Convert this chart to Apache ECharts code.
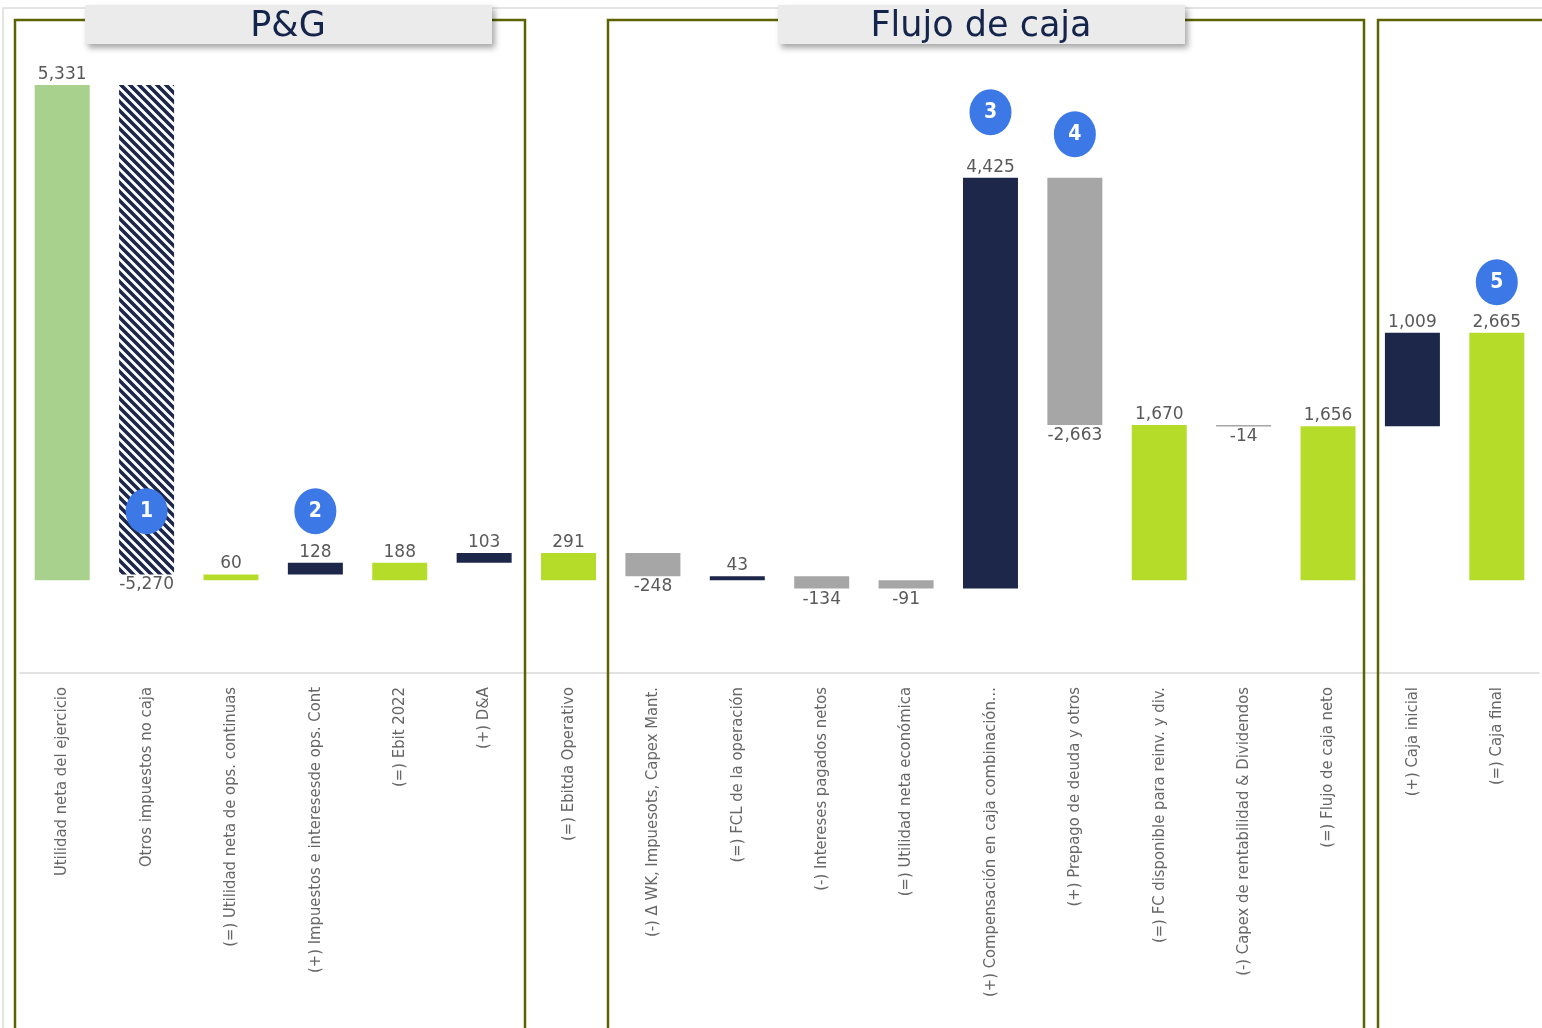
<!DOCTYPE html>
<html>
<head>
<meta charset="utf-8">
<script src="https://cdn.jsdelivr.net/npm/echarts@6/dist/echarts.min.js"></script>
<style>
html, body { margin: 0; padding: 0; background: #fff; }
#chart { width: 1542px; height: 1028px; }
</style>
</head>
<body>
<div id="chart"></div>
<script>
// categorias del puente P&G -> flujo de caja
var categories = [
    'Utilidad neta del ejercicio',
    'Otros impuestos no caja',
    '(=) Utilidad neta de ops. continuas',
    '(+) Impuestos e interesesde ops. Cont',
    '(=) Ebit 2022',
    '(+) D&A',
    '(=) Ebitda Operativo',
    '(-) \u0394 WK, Impuesots, Capex Mant.',
    '(=) FCL de la operación',
    '(-) Intereses pagados netos',
    '(=) Utilidad neta económica',
    '(+) Compensación en caja combinación...',
    '(+) Prepago de deuda y otros',
    '(=) FC disponible para reinv. y div.',
    '(-) Capex de rentabilidad & Dividendos',
    '(=) Flujo de caja neto',
    '(+) Caja inicial',
    '(=) Caja final'
];
// valor de cada paso
var values = [5331, -5270, 60, 128, 188, 103, 291, -248, 43, -134, -91, 4425, -2663, 1670, -14, 1656, 1009, 2665];
// donde empieza cada barra
var starts = [0, 5331, 0, 60, 0, 188, 0, 291, 0, 43, 0, -91, 4334, 0, 1670, 0, 1656, 0];
// tipo de barra
var kinds = ['base', 'hatch', 'total', 'plus', 'total', 'plus', 'total', 'minus', 'plus', 'minus', 'minus',
    'plus', 'minus', 'total', 'minus', 'total', 'plus', 'total'];
// globos numerados
var calloutIdx = [1, 3, 11, 12, 17];
var calloutY = [743, 743, 5040, 4803, 3209];
var calloutText = ['1', '2', '3', '4', '5'];

var kindColor = {
    base: '#a9d18e',
    plus: '#1c2749',
    minus: '#a6a6a6',
    total: '#b6dc2a'
};

// patron rayado para la barra de ajuste
function hatchPattern() {
    var c = document.createElement('canvas');
    var s = 9;
    c.width = s; c.height = s;
    var ctx = c.getContext('2d');
    ctx.fillStyle = '#ffffff';
    ctx.fillRect(0, 0, s, s);
    ctx.strokeStyle = '#1c2749';
    ctx.lineWidth = 3.6;
    ctx.beginPath();
    ctx.moveTo(-2, -2); ctx.lineTo(s + 2, s + 2);
    ctx.moveTo(-2, s - 2); ctx.lineTo(2, s + 2);
    ctx.moveTo(s - 2, -2); ctx.lineTo(s + 2, 2);
    ctx.stroke();
    return { image: c, repeat: 'repeat' };
}
var hatch = hatchPattern();

var barData = [];
for (var i = 0; i < values.length; i++) {
    barData.push([i, starts[i], starts[i] + values[i], values[i]]);
}
var calloutData = [];
for (var j = 0; j < calloutIdx.length; j++) {
    calloutData.push({ value: [calloutIdx[j], calloutY[j]], name: calloutText[j] });
}

function fmt(v) {
    var s = Math.abs(v).toString().replace(/\B(?=(\d{3})+(?!\d))/g, ',');
    return (v < 0 ? '-' : '') + s;
}

var chartDom = document.getElementById('chart');
var myChart = echarts.init(chartDom, null, { renderer: 'canvas' });

var option = {
    backgroundColor: '#ffffff',
    animation: false,
    grid: {
        top: 23,
        left: 20,
        right: 3,
        bottom: 355
    },
    xAxis: {
        type: 'category',
        data: categories,
        axisLine: { show: true, onZero: false, lineStyle: { color: '#d9d9d9', width: 1.5 } },
        axisTick: { show: false },
        axisLabel: {
            rotate: 90,
            interval: 0,
            margin: 14,
            color: '#666666',
            fontFamily: '"Liberation Sans Narrow", "DejaVu Sans Condensed", sans-serif',
            fontSize: 16.5
        },
        splitLine: { show: false }
    },
    yAxis: {
        type: 'value',
        min: -1000,
        max: 6000,
        show: false,
        splitLine: { show: false }
    },
    graphic: [
        // borde gris de la diapositiva
        { type: 'rect', z: 0, silent: true, shape: { x: 3, y: 8, width: 1600, height: 1100 },
            style: { fill: null, stroke: '#dcdcdc', lineWidth: 1.5 } },
        // marcos
        { type: 'rect', z: 1, silent: true, shape: { x: 15, y: 20, width: 510, height: 1100 },
            style: { fill: null, stroke: '#5c6300', lineWidth: 2.5 } },
        { type: 'rect', z: 1, silent: true, shape: { x: 608, y: 20, width: 756, height: 1100 },
            style: { fill: null, stroke: '#5c6300', lineWidth: 2.5 } },
        { type: 'rect', z: 1, silent: true, shape: { x: 1378, y: 20, width: 400, height: 1100 },
            style: { fill: null, stroke: '#5c6300', lineWidth: 2.5 } },
        // cajas de titulo
        { type: 'rect', z: 2, silent: true, shape: { x: 85, y: 5, width: 407, height: 39 },
            style: { fill: '#ebebeb', shadowBlur: 6, shadowOffsetX: 3, shadowOffsetY: 4, shadowColor: 'rgba(0,0,0,0.35)' } },
        { type: 'text', z: 3, silent: true, x: 288, y: 27,
            style: { text: 'P&G', fill: '#14244a', font: '35px "DejaVu Sans", sans-serif', align: 'center', verticalAlign: 'middle' } },
        { type: 'rect', z: 2, silent: true, shape: { x: 778, y: 5, width: 407, height: 39 },
            style: { fill: '#ebebeb', shadowBlur: 6, shadowOffsetX: 3, shadowOffsetY: 4, shadowColor: 'rgba(0,0,0,0.35)' } },
        { type: 'text', z: 3, silent: true, x: 981, y: 27,
            style: { text: 'Flujo de caja', fill: '#14244a', font: '35px "DejaVu Sans", sans-serif', align: 'center', verticalAlign: 'middle' } }
    ],
    series: [
        {
            type: 'custom',
            z: 5,
            data: barData,
            encode: { x: 0, y: [1, 2] },
            renderItem: function (params, api) {
                var idx = api.value(0);
                var lo = api.value(1);
                var hi = api.value(2);
                var v = api.value(3);
                var p1 = api.coord([idx, lo]);
                var p2 = api.coord([idx, hi]);
                var w = 55;
                var yTop = Math.min(p1[1], p2[1]);
                var yBot = Math.max(p1[1], p2[1]);
                var h = Math.max(yBot - yTop, 1.5);
                var kind = kinds[params.dataIndex];
                var fill = kind === 'hatch' ? hatch : kindColor[kind];
                var label;
                if (v >= 0) {
                    label = { type: 'text', style: { text: fmt(v), x: p1[0], y: yTop - 2,
                        align: 'center', verticalAlign: 'bottom', fill: '#595959',
                        font: '17px "DejaVu Sans", sans-serif' } };
                } else {
                    label = { type: 'text', style: { text: fmt(v), x: p1[0], y: yTop + h + 2,
                        align: 'center', verticalAlign: 'top', fill: '#595959',
                        font: '17px "DejaVu Sans", sans-serif' } };
                }
                return {
                    type: 'group',
                    children: [
                        { type: 'rect', shape: { x: p1[0] - w / 2, y: yTop, width: w, height: h },
                            style: { fill: fill } },
                        label
                    ]
                };
            }
        },
        {
            type: 'scatter',
            z: 10,
            data: calloutData,
            symbol: 'circle',
            symbolSize: [42, 46],
            itemStyle: { color: '#3c78e6', opacity: 1 },
            label: {
                show: true,
                position: 'inside',
                formatter: '{b}',
                color: '#ffffff',
                fontWeight: 'bold',
                fontSize: 21,
                fontFamily: '"DejaVu Sans Condensed", sans-serif'
            }
        }
    ]
};

option && myChart.setOption(option);
</script>
</body>
</html>
